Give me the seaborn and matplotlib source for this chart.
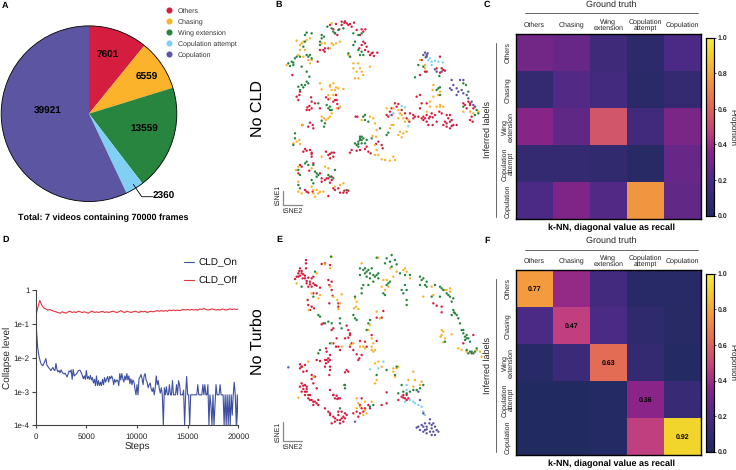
import numpy as np
import pandas as pd
import matplotlib
matplotlib.use("Agg")
import matplotlib.pyplot as plt
from matplotlib.colors import LinearSegmentedColormap
from matplotlib.lines import Line2D
import seaborn as sns

classes = ["Others", "Chasing", "Wing extension", "Copulation attempt", "Copulation"]
class_colors = ["#D51E3F", "#FBB32C", "#27853F", "#80D0F4", "#5C55A1"]
pie_values = [7601, 6559, 13559, 2360, 39921]

col_labels = ["Others", "Chasing", "Wing\nextension", "Copulation\nattempt", "Copulation"]
row_labels = ["Others", "Chasing", "Wing\nextension", "Copulation\nattempt", "Copulation"]

conf_no_cld = [[0.30, 0.27, 0.15, 0.07, 0.20],
               [0.10, 0.22, 0.17, 0.06, 0.10],
               [0.35, 0.25, 0.55, 0.16, 0.32],
               [0.10, 0.10, 0.09, 0.04, 0.27],
               [0.20, 0.33, 0.22, 0.755, 0.26]]
conf_no_turbo = [[0.77, 0.38, 0.17, 0.05, 0.05],
                 [0.20, 0.47, 0.20, 0.08, 0.04],
                 [0.05, 0.13, 0.63, 0.10, 0.03],
                 [0.02, 0.02, 0.03, 0.36, 0.12],
                 [0.02, 0.02, 0.03, 0.47, 0.92]]
annot_no_turbo = [["0.77", "", "", "", ""],
                  ["", "0.47", "", "", ""],
                  ["", "", "0.63", "", ""],
                  ["", "", "", "0.36", ""],
                  ["", "", "", "", "0.92"]]

cld_on = [.17, .05, .02, .012, .009, .007, .0062, .0058, .0068, .0078,
          .0095, .0062, .0055, .005, .0046, .0042, .0047, .0052, .0044, .0042,
          .0068, .0045, .0038, .0042, .0036, .0044, .0038, .0035, .0033, .0035,
          .0031, .0027, .0033, .0041, .0038, .0044, .0023, .0045, .0029, .0031,
          .0033, .0036, .0041, .0043, .0042, .0036, .003, .0024, .0029, .0023,
          .0042, .0024, .0028, .0023, .003, .0022, .0026, .0018, .0023, .0015,
          .0029, .0015, .0021, .0015, .0019, .0015, .0023, .0016, .0026, .0019,
          .0023, .0028, .0019, .0028, .0024, .0029, .0024, .0016, .0023, .0019,
          .0022, .0021, .0015, .0034, .0022, .0034, .0024, .0019, .0029, .0022,
          .0034, .0022, .0029, .0017, .0024, .0016, .0022, .0019, .0012, .0008,
          .0016, .0008, .0024, .0027, .0032, .0024, .0016, .0029, .0034, .0022,
          .0019, .0013, .0016, .0018, .0012, .0010, .0013, .0008, .0013, .0029,
          .0016, .0021, .0012, .0009, .0013, .0008, .0001, .0013, .0008, .0014,
          .0008, .0008, .0016, .0008, .0008, .0021, .0008, .0008, .0008, .0016,
          .0008, .0021, .0016, .0008, .0008, .0008, .0011, .0001, .0008, .0028,
          .0008, .0008, .0001, .0008, .0008, .0008, .0008, .0008, .0008, .0008,
          .0016, .0008, .0008, .0008, .0008, .0016, .0008, .0016, .0008, .0008,
          .0016, .0001, .0008, .0004, .0001, .0008, .0001, .0004, .0016, .0008,
          .0008, .0008, .0016, .0008, .0008, .0008, .0001, .0008, .0001, .0008,
          .0001, .0008, .0001, .0008, .0002, .0008, .0019, .0008, .0001, .0008,
          .0001]
cld_off = [.17, .30, .50, .36, .30, .28, .26, .27, .25, .24,
           .23, .22, .21, .23, .22, .21, .23, .24, .22, .23,
           .22, .24, .23, .22, .23, .22, .21, .23, .24, .22,
           .23, .22, .23, .24, .22, .23, .22, .23, .24, .23,
           .22, .23, .25, .23, .22, .24, .23, .22, .23, .24,
           .23, .22, .24, .23, .24, .22, .23, .24, .23, .24,
           .25, .24, .25, .24, .25, .24, .26, .25, .26, .25,
           .26, .25, .26, .27, .26, .27, .26, .27, .26, .27,
           .26, .28, .27, .29, .27, .26, .27, .28, .27, .26,
           .27, .26, .28, .27, .26, .27, .28, .27, .28, .27, .28]
steps_on = list(range(0, 20100, 100))
steps_off = list(range(0, 20200, 200))

# tSNE embedding without CLD
b_others = [(240,75),(258,72),(275,65),(283,68),(290,70),(300,72),(312,68),(268,88),(255,100),(262,105),(285,64),(295,75),(335,88),(346,88),(320,90),(330,105),(345,130),(335,135),(350,140),(328,145),(355,155),(368,158),(382,158),(372,168),(365,160),(220,150),(235,145),(224,155),(203,185),(127,225),(148,285),(145,300),(150,275),(183,292),(185,305),(195,310),(210,325),(172,322),(185,325),(178,330),(260,300),(250,305),(235,298),(258,285),(228,292),(188,375),(180,368),(175,380),(157,375),(265,325),
            (165,447),(160,455),(180,450),(185,458),(185,470),(228,455),(235,465),(245,458),(252,458),(240,475),(150,495),(155,500),(145,520),(190,490),(178,512),(245,530),(235,535),(225,540),(240,548),(250,565),(265,565),(283,572),(295,572),(290,578),(165,570),(175,578),(188,575),(255,570),(235,588),(270,578),(210,520),(215,535),
            (317,350),(322,350),(300,458),(305,450),(320,452),(330,450),(345,447),(355,455),(362,460),(350,440),(378,432),(395,435),(398,445),(385,425),
            (410,345),(420,335),(435,310),(445,312),(455,330),(465,340),(480,340),(490,345),(415,350),(425,325),(470,355),(478,365),(495,350),(505,350),(515,355),(520,360),(530,345),(540,350),(545,340),(555,345),(530,365),(535,375),(548,375),(560,365),(510,285),(500,290),(515,310),(510,325),(530,310),(590,345),(600,345),(580,375),(590,380),(600,385),(610,375),(620,375),(605,360),(595,355),(585,365),(640,310),(655,305),(650,325),(660,315),(670,325),(665,350),(660,360),(668,365),(575,340),(568,335),
            (570,170),(575,205),(585,212),(570,218),(560,205),(510,225),(525,215),(530,215),(515,180),
            (275,75),(305,80),(250,88),(340,95),(340,125),(345,150),(360,165),(225,145),(210,150),(140,290),(178,318),(255,300),(262,312),(170,330),(190,385),(185,462),(170,452),(240,462),(250,470),(230,535),(245,540),(215,545),(170,575),(280,578),(440,320),(425,345),(490,355),(520,350),(537,355),(548,352),(525,355),(590,370),(605,378),(600,365),(660,310),(645,315),(580,210)]
b_chasing = [(110,195),(140,122),(150,135),(160,125),(170,120),(180,115),(150,150),(145,165),(160,170),(175,180),(185,180),(180,190),(215,130),(225,130),(240,145),(250,135),(258,130),(270,125),(245,70),(300,170),(310,190),(325,190),(310,205),(330,205),(335,215),(325,235),(315,235),(340,225),(295,165),(360,200),(210,250),(215,268),(240,260),(250,250),(258,262),(245,270),(250,285),(235,285),(265,265),(280,267),(240,295),(270,320),(260,325),(245,340),(235,355),(228,360),(215,350),(158,375),(148,420),(130,430),(150,432),(140,425),(145,500),(138,510),(145,545),(145,575),(155,580),(185,560),(190,580),(195,590),(200,570),(210,575),(220,575),(225,500),(235,505),(185,505),(280,550),(270,555),(255,560),(215,470),
             (335,360),(360,350),(370,355),(375,370),(380,390),(368,408),(378,410),(375,435),(380,450),(375,465),(385,465),(395,478),(405,480),(420,482),(435,480),(430,470),(420,385),(425,375),(450,395),(460,400),(470,395),(455,412),(445,405),(430,325),(445,330),(455,345),(460,355),(465,365),(445,355),(475,360),(410,325),(530,335),(540,305),(550,255),(548,270),(550,290),(565,285),(570,320),(580,320),(560,320),(640,335),(660,335),(670,340),(685,335),(510,180),(525,195),(525,205),(570,275),
             (155,130),(165,150),(245,130),(320,215),(240,255),(255,270),(240,350),(222,355),(190,570),(205,580),(430,375),(450,340),(570,315),(540,320)]
b_wing = [(115,190),(125,185),(130,195),(120,198),(135,175),(140,170),(155,200),(165,125),(160,140),(170,165),(180,165),(185,175),(165,105),(170,98),(185,100),(215,105),(222,110),(210,125),(215,115),(210,135),(232,80),(245,85),(250,95),(255,100),(265,90),(280,85),(310,100),(325,105),(335,100),(310,135),(315,125),(325,150),(335,155),(330,165),(340,165),(295,160),(300,170),(170,215),(178,230),(170,245),(165,255),(155,255),(145,260),(150,270),(175,250),(240,320),(235,325),(245,330),(230,315),(205,310),(225,370),(222,380),(215,362),(135,400),(135,415),(130,435),(170,485),(175,495),(190,495),(145,510),(150,525),(195,515),(200,530),(205,525),(185,540),(190,550),(235,525),(250,535),(255,510),(150,565),(145,555),(290,570),
          (345,345),(345,360),(355,365),(390,385),(410,405),(415,398),(330,415),(335,420),(325,425),(335,430),(320,435),(345,430),(350,420),(315,430),(325,440),(365,415),(330,410),
          (680,330),(675,345),(685,340),(565,265),(560,270),(570,262),(570,285),(530,170),(520,200),(495,232),(505,195),(568,228),(648,255),(640,250),(655,275),(640,320),
          (130,188),(150,170),(175,170),(160,262),(240,330),(165,490),(200,520),(240,530),(340,350),(330,420),(340,415),(325,432),(335,410)]
b_attempt = [(455,318),(465,322),(430,340),(420,345),(475,378),(535,180),(545,185),(555,182),(565,185),(578,187),(540,175),(545,195)]
b_copulation = [(525,158),(530,165),(520,165),(527,172),(533,160),(555,208),(560,215),(605,240),(610,255),(600,265),(605,270),(620,265),(625,275),(620,285),(635,270),(640,280),(650,285),(655,295),(665,305),(670,315),(675,320),(630,240),(640,240),(575,215)]

# tSNE embedding without Turbo
e_others = [(150,100),(145,115),(155,115),(140,125),(135,132),(150,122),(160,118),(165,130),(175,128),(185,130),(180,140),(170,145),(175,155),(185,155),(195,150),(210,158),(190,125),(168,75),(168,85),(168,100),(148,108),(158,130),(190,175),(200,175),(173,195),(175,210),(185,215),(192,220),(180,225),(240,90),(215,87),(225,85),(238,205),(248,182),(265,215),(265,205),(235,135),(245,140),(238,150),(245,165),
            (215,268),(220,265),(245,285),(250,280),(290,272),(295,285),(300,295),(295,308),(285,310),(260,310),(250,325),(228,340),(230,350),(240,360),(258,335),(265,335),(270,345),(300,335),(310,345),(305,325),(330,318),(345,320),(350,335),(320,358),(328,370),(325,375),(335,360),(365,300),(380,318),
            (150,388),(155,395),(165,390),(150,400),(160,410),(170,408),(185,420),(195,425),(185,432),(190,445),(200,375),(210,378),(225,375),(235,370),(240,375),(228,385),(225,395),(240,395),(240,405),(238,420),(290,405),(295,410),(285,412),(155,445),(150,455),(165,450),(160,462),(170,470),(155,470),(180,480),(175,490),(185,495),(195,500),(205,510),(190,510),(205,495),(165,480),(170,455),(200,460),(283,450),(240,465),(250,480),(260,482),(265,490),(255,490),(270,490),(225,520),(235,530),(240,540),(250,545),(265,530),(275,530),(285,535),(290,540),(275,550),(262,555),(280,560),(245,565),(270,565),(255,550),(330,510),(345,520),(340,530),(320,530),(310,535),(325,545),(355,510),(360,520),(335,490),(395,510),(410,505),(410,472),
            (455,485),(465,490),(470,480),(445,495),(475,490),(470,495),(460,480),(550,205),(560,212),(575,232),(575,215),(670,300),(640,325),(665,355),(400,228),(380,248),(395,248),
            (155,108),(145,125),(165,122),(170,138),(180,148),(190,145),(200,152),(155,395),(160,452),(170,462),(175,480),(165,470),(190,500),(200,505),(180,495),(240,535),(265,540),(280,545),(270,555),(285,550),(255,560),(250,480),(262,492),(335,520),(330,535),(345,525),(235,380),(230,375),(460,488),(300,300)]
e_chasing = [(140,145),(185,175),(200,115),(205,190),(210,180),(176,225),(245,65),(225,88),(240,100),(250,185),(275,178),(262,195),(270,205),(265,222),(240,155),(320,200),(318,215),(312,220),(325,222),(315,190),(400,135),(395,155),(415,155),(405,165),(420,100),(440,110),(430,125),(465,100),(470,110),(480,130),(520,185),(545,155),(550,180),(590,165),(600,170),(580,290),(572,305),(585,310),(580,322),(575,285),(605,298),(625,340),(635,345),(650,350),(680,345),(690,350),(695,365),(360,270),(355,285),(365,310),(370,325),(375,345),(345,340),(365,345),(330,335),(310,325),(300,330),(275,335),(245,325),(175,380),(145,488),(190,425),(320,490),(345,500),(325,505),(340,540),(350,535),(320,520),(365,500),(375,385),(385,380),(395,395),(380,435),(375,445),(430,400),(440,400),(445,395),(430,410),(435,425),(490,410),(495,435),(515,440),(510,450),(475,435),(490,455),(380,230),(390,250),(335,85),(385,68),
             (410,135),(460,105),(600,160),(585,165),(575,300),(365,335),(370,350),(340,335),(345,525),(330,515)]
e_wing = [(243,65),(195,110),(155,155),(205,240),(210,245),(190,185),(235,260),(225,265),(245,265),(270,250),(270,265),(310,240),(315,250),(320,255),(275,280),(315,185),(335,160),(335,175),(330,100),(340,105),(345,115),(330,120),(355,105),(360,115),(365,100),(375,125),(385,115),(340,150),(355,150),(370,140),(385,130),(380,68),(410,70),(425,60),(420,80),(435,75),(405,85),(425,95),(440,88),(410,150),(415,145),(420,140),(400,175),(405,180),(455,165),(460,175),(470,165),(465,150),(470,210),(470,195),(450,115),(465,120),(480,120),(510,125),(520,130),(530,140),(510,150),(530,155),(555,150),(570,155),(580,165),(590,175),(600,185),(610,190),(605,200),(570,185),(545,185),(610,225),(615,235),(605,240),(620,240),(625,250),(630,265),(635,285),(640,295),(650,300),(655,310),(645,315),(660,320),(650,345),(660,350),(670,355),(655,355),(680,340),(585,320),(355,265),(360,255),(350,285),(210,345),(205,355),(240,325),(285,460),(270,520),(360,515),(370,510),(285,450),(440,395),(435,420),(410,405),(380,420),(455,450),(480,470),(500,465),(510,460),(520,450),(470,475),(445,475),
          (350,110),(345,100),(370,120),(350,125),(360,130),(380,120),(515,135),(525,150),(575,160),(595,180),(640,285),(645,305),(650,310),(665,350),(675,350),(612,232),(460,470),(490,465)]
e_attempt = [(400,380),(360,403),(385,400),(470,450),(470,465),(480,495),(490,500),(495,505),(505,510),(515,515),(520,530),(525,540),(465,500)]
e_copulation = [(115,397),(315,560),(505,470),(510,495),(520,535),(540,553),(525,565),(515,570),(505,575),(520,575),(530,575),(545,570),(555,575),(560,585),(550,590),(540,590),(530,595),(520,590),(510,585),(545,600),(555,600),(565,590),(500,578),(530,583),(545,580),(525,585),(538,565),(550,565)]

W, H = 736, 470


def px_axes(fig, left, top, right, bottom, **kw):
    return fig.add_axes([left / W, 1 - bottom / H, (right - left) / W, (bottom - top) / H], **kw)


def embed_frame(groups):
    rows = []
    for name, pts in zip(classes, groups):
        for x, y in pts:
            rows.append({"tsne2": x, "tsne1": y, "label": name})
    return pd.DataFrame(rows)


def draw_embedding(fig, top, groups):
    ax = px_axes(fig, 250, top, 490, top + 235)
    sns.scatterplot(data=embed_frame(groups), x="tsne2", y="tsne1", hue="label", hue_order=classes,
                    palette=class_colors, s=3, linewidth=0, legend=False, ax=ax)
    ax.set_xlim(0, 720)
    ax.set_ylim(705, 0)
    ax.axis("off")
    return ax


def draw_conf(fig, top, matrix, annot):
    ax = px_axes(fig, 515.7, top, 701, top + 185)
    cax = px_axes(fig, 705.7, top + 3.4, 714.3, top + 181.4)
    sns.heatmap(np.array(matrix), vmin=0, vmax=1, cmap=conf_cmap, ax=ax, cbar_ax=cax,
                xticklabels=col_labels, yticklabels=row_labels, square=False,
                annot=np.array(annot), fmt="", annot_kws={"fontsize": 5.2, "fontweight": "bold", "color": "black"})
    ax.xaxis.tick_top()
    ax.tick_params(axis="both", length=0, labelsize=5.2, colors="#222222")
    ax.tick_params(axis="x", pad=6.8)
    ax.set_xticklabels(col_labels, rotation=0, ha="center", va="center", linespacing=1.0)
    ax.set_yticklabels(row_labels, rotation=90, va="center", ha="center", ma="center", linespacing=1.0)
    ax.tick_params(axis="y", pad=5.8)
    for s in ax.spines.values():
        s.set_visible(True)
        s.set_linewidth(1.0)
        s.set_color("black")
    cax.tick_params(length=1.5, width=0.6, labelsize=5, pad=1)
    cax.set_yticks([0, 0.2, 0.4, 0.6, 0.8, 1.0])
    cax.set_yticklabels(["0.0", "0.2", "0.4", "0.6", "0.8", "1.0"], fontweight="bold")
    for s in cax.spines.values():
        s.set_visible(True)
        s.set_linewidth(0.8)
        s.set_color("black")
    return ax


sns.set_theme(style="white")
plt.rcParams["font.family"] = ["Liberation Sans", "DejaVu Sans"]
plt.rcParams["text.color"] = "#111111"
plt.rcParams["text.hinting"] = "no_hinting"
plt.rcParams["text.hinting_factor"] = 1

conf_cmap = LinearSegmentedColormap.from_list(
    "conf", [(0.0, "#1E2A5E"), (0.2, "#4A2A84"), (0.36, "#8B2488"), (0.47, "#C0407F"),
             (0.63, "#E26C54"), (0.77, "#F39A3E"), (0.92, "#F1D42B"), (1.0, "#F6EA45")])

fig = plt.figure(figsize=(W / 100, H / 100), dpi=100)

# pie
ax_a = px_axes(fig, 0.3, 25, 177.7, 202.4)
ax_a.pie(pie_values, colors=class_colors, startangle=90, counterclock=False, radius=1,
         wedgeprops={"edgecolor": "none"})
ax_a.add_patch(plt.Circle((0, 0), 1, fill=False, edgecolor="black", linewidth=0.6))
ax_a.set_xlim(-1.01, 1.01)
ax_a.set_ylim(-1.01, 1.01)

# scatter panels
draw_embedding(fig, 0, [b_others, b_chasing, b_wing, b_attempt, b_copulation])
draw_embedding(fig, 235, [e_others, e_chasing, e_wing, e_attempt, e_copulation])

# collapse curves
ax_d = px_axes(fig, 35.7, 290.3, 238.3, 425.3)
sns.lineplot(x=steps_on, y=cld_on, color="#3F50A2", linewidth=0.8, ax=ax_d, label="CLD_On")
sns.lineplot(x=steps_off, y=cld_off, color="#E9323C", linewidth=0.8, ax=ax_d, label="CLD_Off")
ax_d.set_yscale("log")
ax_d.set_xlim(0, 20000)
ax_d.set_ylim(1e-4, 1)
ax_d.set_xticks([0, 5000, 10000, 15000, 20000])
ax_d.set_xticklabels(["0", "5000", "10000", "15000", "20000"])
ax_d.set_yticks([1, 1e-1, 1e-2, 1e-3, 1e-4])
ax_d.set_yticklabels(["1", "1e-1", "1e-2", "1e-3", "1e-4"])
ax_d.minorticks_off()
ax_d.tick_params(axis="both", width=0.8, color="#444444", labelsize=5.5, labelcolor="#222222",
                 left=True, bottom=True)
ax_d.tick_params(axis="y", length=3, pad=1.5)
ax_d.tick_params(axis="x", length=2, pad=3.5)
ax_d.set_xlabel("Steps", fontsize=7, labelpad=2)
ax_d.set_ylabel("Collapse level", fontsize=7, labelpad=1)
ax_d.patch.set_visible(False)
sns.despine(ax=ax_d)
for side in ["left", "bottom"]:
    ax_d.spines[side].set_color("#444444")
    ax_d.spines[side].set_linewidth(0.8)
ax_d.legend(loc="upper left", bbox_to_anchor=((184 - 35.7) / 202.6, (258 - 290.3) / -135 + 1.0), frameon=False,
            fontsize=7, labelspacing=0.9, handlelength=1.05, handletextpad=0.42, borderaxespad=0, borderpad=0)

# confusion matrices
draw_conf(fig, 34.3, conf_no_cld, [[""] * 5] * 5)
draw_conf(fig, 270.3, conf_no_turbo, annot_no_turbo)

# everything placed by hand goes on one overlay in pixels
ov = fig.add_axes([0, 0, 1, 1], zorder=10)
ov.set_xlim(0, W)
ov.set_ylim(H, 0)
ov.axis("off")

for txt, x, y in [("A", 5, 6), ("B", 279, 5), ("C", 487, 5), ("D", 6, 240), ("E", 279, 240), ("F", 487, 241)]:
    ov.text(x, y, txt, fontsize=6.5, fontweight="bold", ha="center", va="center", color="black")

for txt, x, y in [("7601", 108, 55), ("6559", 147, 77.7), ("13559", 144.3, 129.5), ("39921", 48, 111.7), ("2360", 163.7, 196.7)]:
    ov.text(x, y, txt, fontsize=6.9, fontweight="bold", ha="center", va="center", color="black")
ov.plot([133.3, 141.7, 152.7], [184.3, 196.7, 196.7], color="black", linewidth=0.6)
ov.text(103.3, 217.7, "Total: 7 videos containing 70000 frames", fontsize=6.7, fontweight="bold",
        ha="center", va="center", color="black")

handles = [Line2D([], [], linestyle="none", marker="o", markersize=4.4, markerfacecolor=c, markeredgewidth=0)
           for c in class_colors]
fig.legend(handles, classes, loc="upper left", bbox_to_anchor=(165 / W, 1 - 7.5 / H), frameon=False, fontsize=5.3,
           labelspacing=0.58, handlelength=1.0, handletextpad=0.75, borderaxespad=0, borderpad=0,
           labelcolor="#333333")

ov.text(258, 109, "No CLD", fontsize=11.8, rotation=90, ha="center", va="center", color="black")
ov.text(258, 341.7, "No Turbo", fontsize=11.8, rotation=90, ha="center", va="center", color="black")

# tSNE scale bars
for x0, y0, y1, ty1, ty2 in [(282.7, 204.7, 190.7, 195, 210.7), (282.7, 441.3, 422.3, 431.7, 447)]:
    ov.plot([x0, x0, x0 + 19], [y1, y0, y0], color="#888888", linewidth=0.9)
    ov.text(278, ty1, "tSNE1", fontsize=5, rotation=90, ha="center", va="center", color="#222222")
    ov.text(293.5, ty2, "tSNE2", fontsize=5, ha="center", va="center", color="#222222")

for gt_y, line_y, knn_y, inf_y, l0, l1, prop_y in [(5, 13.3, 228, 130, 42.7, 216.7, 127),
                                                  (241, 249.7, 464, 365.7, 279, 452, 362)]:
    ov.text(611, gt_y, "Ground truth", fontsize=6.2, ha="center", va="center", color="#222222")
    ov.plot([525, 697.7], [line_y, line_y], color="#666666", linewidth=0.7)
    ov.text(611, knn_y, "k-NN, diagonal value as recall", fontsize=6.6, fontweight="bold",
            ha="center", va="center", color="black")
    ov.text(488, inf_y, "Inferred labels", fontsize=6.2, rotation=90, ha="center", va="center", color="#222222")
    ov.plot([495.7, 495.7], [l0, l1], color="#666666", linewidth=0.7)
    ov.text(732, prop_y, "Proportion", fontsize=6, rotation=270, ha="center", va="center", color="#222222")

fig.savefig("out.png", dpi=100)
